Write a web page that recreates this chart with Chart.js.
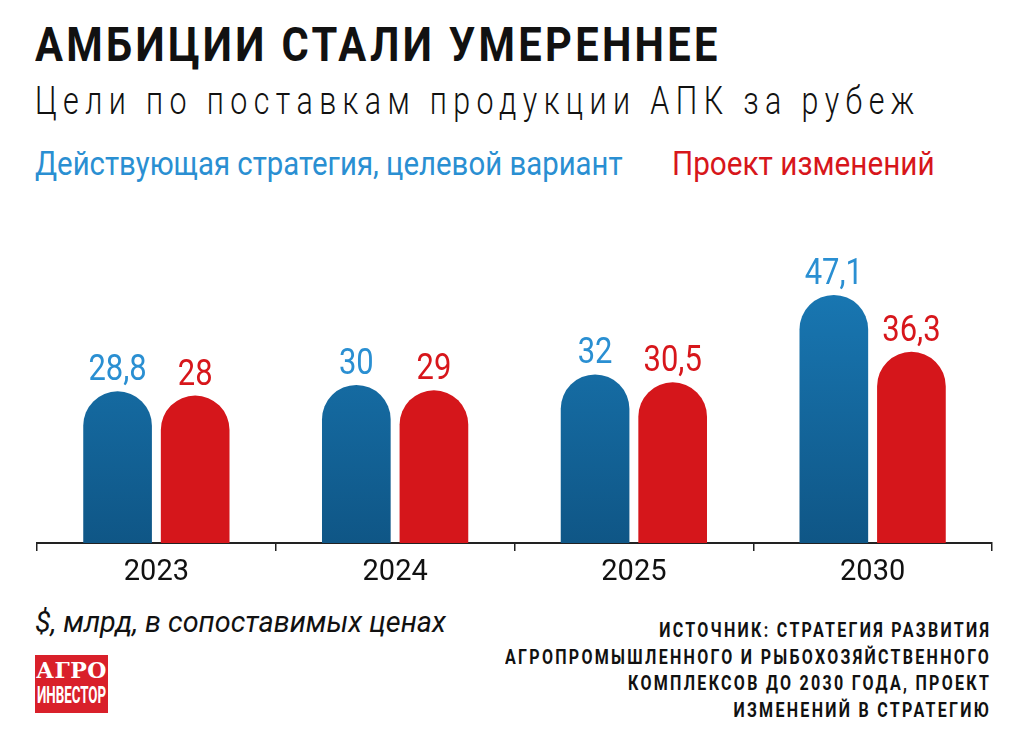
<!DOCTYPE html>
<html>
<head>
<meta charset="utf-8">
<script src="https://cdn.jsdelivr.net/npm/chart.js@4/dist/chart.umd.min.js"></script>
<style>
  body { margin: 0; background: #fff; width: 1024px; height: 735px; overflow: hidden; position: relative;
         font-family: "Roboto", "Liberation Sans", sans-serif; }
  .t { position: absolute; white-space: nowrap; line-height: 1; transform-origin: left top; }
  #title { left: 35px; top: 20px; font-size: 49px; font-weight: bold; color: #111; letter-spacing: 3.9px; transform: scaleX(0.85); }
  #subtitle { left: 35px; top: 82px; font-size: 38px; font-weight: 300; color: #111; letter-spacing: 8px; transform: scaleX(0.8); }
  #legBlue { left: 35px; top: 147px; font-size: 33px; color: #2a8fd2; transform: scaleX(0.89); }
  #legRed { left: 672px; top: 147px; font-size: 33px; color: #d7161b; transform: scaleX(0.9); }
  #unit { left: 35px; top: 607px; font-size: 30px; font-style: italic; color: #111; transform: scaleX(0.96); }
  #source { right: 33px; top: 617px; font-size: 21px; font-weight: bold; color: #111; letter-spacing: 3px;
            text-align: right; line-height: 26.5px; transform-origin: right top; transform: scaleX(0.763); }
  #logo { position: absolute; left: 35px; top: 655px; width: 73px; height: 58px; background: #d9202a; color: #fff;
          text-align: center; font-weight: bold; overflow: hidden; }
  #logo .a { font-family: "DejaVu Serif", serif; font-size: 22px; line-height: 25px; padding-top: 3px; letter-spacing: 0.5px; }
  #logo .b { font-size: 23px; line-height: 25px; transform: scaleX(0.58); transform-origin: center top; white-space: nowrap; margin: 0 -40px; }
  #wrap { position: absolute; left: 0; top: 200px; width: 1024px; height: 400px; }
</style>
</head>
<body>
<div class="t" id="title">АМБИЦИИ СТАЛИ УМЕРЕННЕЕ</div>
<div class="t" id="subtitle">Цели по поставкам продукции АПК за рубеж</div>
<div class="t" id="legBlue">Действующая стратегия, целевой вариант</div>
<div class="t" id="legRed">Проект изменений</div>
<div id="wrap"><canvas id="myChart"></canvas></div>
<div class="t" id="unit">$, млрд, в сопоставимых ценах</div>
<div id="logo"><div class="a">АГРО</div><div class="b">ИНВЕСТОР</div></div>
<div class="t" id="source">ИСТОЧНИК: СТРАТЕГИЯ РАЗВИТИЯ<br>АГРОПРОМЫШЛЕННОГО И РЫБОХОЗЯЙСТВЕННОГО<br>КОМПЛЕКСОВ ДО 2030 ГОДА, ПРОЕКТ<br>ИЗМЕНЕНИЙ В СТРАТЕГИЮ</div>
<script>
const years = ['2023', '2024', '2025', '2030'];
const currentStrategy = [28.8, 30, 32, 47.1];
const proposedChanges = [28, 29, 30.5, 36.3];
const seriesNames = ['Действующая стратегия, целевой вариант', 'Проект изменений'];

const FONT = '"Roboto", "Liberation Sans", sans-serif';
const labelColors = ['#2a8fd2', '#d7161b'];

function blueFill(context) {
    const area = context.chart.chartArea;
    if (!area) return '#13679f';
    const g = context.chart.ctx.createLinearGradient(0, area.top, 0, area.bottom);
    g.addColorStop(0, '#1b7fbd');
    g.addColorStop(1, '#0f5686');
    return g;
}

// value labels above each bar, decimal comma, squeezed a bit (condensed look)
const valueLabels = {
    id: 'valueLabels',
    afterDatasetsDraw(chart) {
        const ctx = chart.ctx;
        chart.data.datasets.forEach((ds, i) => {
            const meta = chart.getDatasetMeta(i);
            meta.data.forEach((bar, j) => {
                const txt = String(ds.data[j]).replace('.', ',');
                ctx.save();
                ctx.translate(bar.x, bar.y - 11);
                ctx.scale(0.86, 1);
                ctx.font = '36px ' + FONT;
                ctx.textAlign = 'center';
                ctx.textBaseline = 'alphabetic';
                ctx.fillStyle = labelColors[i];
                ctx.fillText(txt, 0, 0);
                ctx.restore();
            });
        });
    }
};

const radius = { topLeft: 40, topRight: 40, bottomLeft: 0, bottomRight: 0 };

new Chart(document.getElementById('myChart'), {
    type: 'bar',
    data: {
        labels: years,
        datasets: [{
            label: seriesNames[0],
            data: currentStrategy,
            backgroundColor: blueFill,
            borderRadius: radius,
            borderSkipped: false
        }, {
            label: seriesNames[1],
            data: proposedChanges,
            backgroundColor: '#d5161b',
            borderRadius: radius,
            borderSkipped: false
        }]
    },
    options: {
        responsive: true,
        maintainAspectRatio: false,
        animation: false,
        categoryPercentage: 0.65,
        barPercentage: 0.885,
        layout: { padding: { top: 27, left: 37, right: 32, bottom: 0 } },
        plugins: { legend: { display: false }, tooltip: { enabled: false } },
        scales: {
            y: { display: false, min: 0, max: 60 },
            x: {
                afterFit(scale) { scale.height = 57; },
                grid: { drawOnChartArea: false, drawTicks: true, tickLength: 8, color: '#222', lineWidth: 1.5 },
                border: { display: true, color: '#222', width: 2 },
                ticks: { color: '#111', padding: 4, font: { family: FONT, size: 29 } }
            }
        }
    },
    plugins: [valueLabels]
});
</script>
</body>
</html>
